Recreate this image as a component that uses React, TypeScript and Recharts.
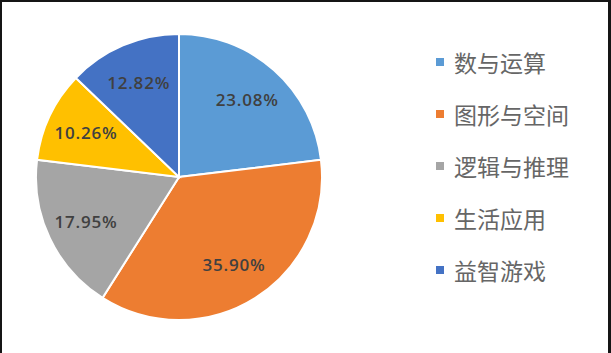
import { PieChart, Pie, Cell, Legend } from "recharts";

const categories = ["数与运算", "图形与空间", "逻辑与推理", "生活应用", "益智游戏"];
const counts = [9, 14, 7, 4, 5];
const colors = ["#5B9BD5", "#ED7D31", "#A5A5A5", "#FFC000", "#4472C4"];

const RADIAN = Math.PI / 180;
const total = counts.reduce((a, b) => a + b, 0);

const chartRows = categories.map((name, index) => ({
  name,
  value: counts[index],
  fill: colors[index],
}));

function renderLabel(props: any) {
  const { cx, cy, midAngle, outerRadius, value } = props;
  const r = outerRadius * 0.72;
  const x = cx + r * Math.cos(-midAngle * RADIAN);
  const y = cy + r * Math.sin(-midAngle * RADIAN);
  return (
    <text
      x={x}
      y={y}
      fill="#404040"
      textAnchor="middle"
      dominantBaseline="central"
      style={{ fontFamily: "'Open Sans', sans-serif", fontSize: 17, fontWeight: 600, letterSpacing: 0.8 }}
    >
      {((value / total) * 100).toFixed(2) + "%"}
    </text>
  );
}

function renderLegend() {
  return (
    <div>
      {chartRows.map((row) => (
        <div
          key={row.name}
          style={{ display: "flex", alignItems: "center", height: 52 }}
        >
          <span
            style={{ width: 8, height: 8, background: row.fill, marginRight: 10, flexShrink: 0 }}
          />
          <span
            style={{
              fontFamily: "'Noto Sans CJK SC', sans-serif",
              fontSize: 23,
              color: "#666666",
              whiteSpace: "nowrap",
            }}
          >
            {row.name}
          </span>
        </div>
      ))}
    </div>
  );
}

export default function App() {
  return (
    <div
      style={{
        position: "absolute",
        left: 0,
        top: 0,
        width: 611,
        height: 353,
        background: "#fff",
        overflow: "hidden",
      }}
    >
      <PieChart width={611} height={353} margin={{ top: 0, right: 0, bottom: 0, left: 0 }}>
        <Pie
          data={chartRows}
          dataKey="value"
          nameKey="name"
          cx={179}
          cy={177}
          outerRadius={143}
          startAngle={90}
          endAngle={-270}
          stroke="#ffffff"
          strokeWidth={2}
          label={renderLabel}
          labelLine={false}
          isAnimationActive={false}
        >
          {chartRows.map((entry) => (
            <Cell key={entry.name} fill={entry.fill} />
          ))}
        </Pie>
        <Legend
          content={renderLegend}
          layout="vertical"
          wrapperStyle={{ position: "absolute", left: 436, top: 36, width: 170 }}
        />
      </PieChart>
      <div style={{ position: "absolute", left: 0, top: 0, width: 611, height: 2, background: "#151515" }} />
      <div style={{ position: "absolute", left: 0, top: 0, width: 2, height: 353, background: "#151515" }} />
      <div style={{ position: "absolute", right: 0, top: 0, width: 3, height: 353, background: "#151515" }} />
    </div>
  );
}
